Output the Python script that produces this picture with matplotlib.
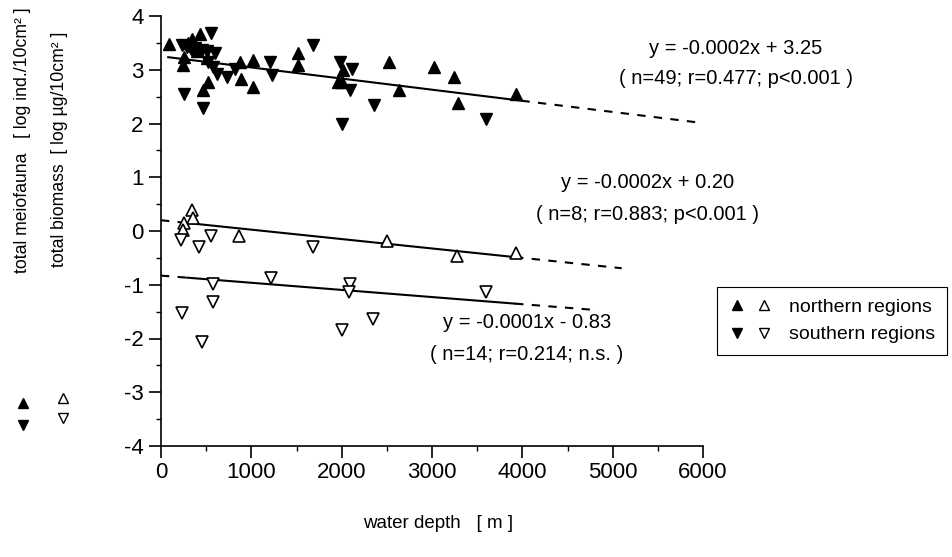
import numpy as np
import matplotlib
matplotlib.use('Agg')
import matplotlib.pyplot as plt
from matplotlib.lines import Line2D
from matplotlib.legend_handler import HandlerTuple
from matplotlib.ticker import MultipleLocator

plt.rcParams['font.family'] = ['Liberation Sans', 'DejaVu Sans']
plt.rcParams['axes.unicode_minus'] = False

# total meiofauna (log ind./10cm2), filled symbols
meio_north_depth = [88, 347, 432, 258, 247, 505, 875, 1023, 886, 1023, 524, 469, 300, 400,
                    1521, 1521, 2019, 1963, 2004, 2519, 2636, 3027, 3249, 3293, 3931]
meio_north_val = [3.48, 3.58, 3.67, 3.24, 3.09, 3.21, 3.15, 3.19, 2.82, 2.68, 2.78, 2.62, 3.50, 3.35,
                  3.31, 3.09, 2.99, 2.78, 2.78, 3.15, 2.62, 3.05, 2.86, 2.38, 2.55]
meio_south_depth = [229, 284, 554, 376, 450, 505, 598, 520, 575, 616, 727, 819, 258, 469, 330,
                    1207, 1226, 1688, 1982, 2112, 2093, 2359, 2007, 3599]
meio_south_val = [3.46, 3.43, 3.69, 3.40, 3.37, 3.34, 3.31, 3.15, 3.06, 2.93, 2.87, 3.01, 2.55, 2.28, 3.38,
                  3.15, 2.90, 3.46, 3.15, 3.01, 2.62, 2.34, 2.00, 2.08]

# total biomass (log ug/10cm2), open symbols
bio_north_depth = [340, 358, 255, 240, 867, 2507, 3282, 3931]
bio_north_val = [0.39, 0.25, 0.15, 0.02, -0.09, -0.18, -0.46, -0.41]
bio_south_depth = [221, 425, 554, 1679, 580, 580, 236, 450, 1214, 2093, 2086, 2001, 2349, 3595]
bio_south_val = [-0.17, -0.30, -0.09, -0.30, -0.99, -1.33, -1.52, -2.06, -0.88, -0.99, -1.14, -1.85,
                 -1.64, -1.13]

# regression lines: slope, intercept, solid range, dashed ranges
fit_slopes = [-0.000207, -0.000175, -0.000133]
fit_intercepts = [3.25, 0.20, -0.83]
fit_solid = [(80, 3990), (230, 3920), (290, 3920)]
fit_dashed = [[(3990, 6000)], [(0, 230), (3920, 5100)], [(0, 290), (3920, 4840)]]

eq_texts = ['y = -0.0002x + 3.25', 'y = -0.0002x + 0.20', 'y = -0.0001x - 0.83']
stat_texts = ['( n=49; r=0.477; p<0.001 )', '( n=8; r=0.883; p<0.001 )', '( n=14; r=0.214; n.s. )']

W, H = 952, 557
fig = plt.figure(figsize=(W / 100, H / 100), dpi=100)
ax = fig.add_axes([161 / W, 1 - 446 / H, 542 / W, 430 / H])

ms = 9
ax.plot(meio_north_depth, meio_north_val, '^', color='black', ms=ms, ls='none', clip_on=False)
ax.plot(meio_south_depth, meio_south_val, 'v', color='black', ms=ms, ls='none', clip_on=False)
ax.plot(bio_north_depth, bio_north_val, '^', mfc='white', mec='black', mew=1.2, ms=ms, ls='none')
ax.plot(bio_south_depth, bio_south_val, 'v', mfc='white', mec='black', mew=1.2, ms=ms, ls='none')

for k in range(3):
    a, b = fit_slopes[k], fit_intercepts[k]
    x0, x1 = fit_solid[k]
    xs = np.array([x0, x1])
    ax.plot(xs, b + a * xs, color='black', lw=1.5, zorder=1, clip_on=False)
    for d0, d1 in fit_dashed[k]:
        xs = np.array([d0, d1])
        ax.plot(xs, b + a * xs, color='black', lw=1.5, ls=(0, (4, 4)), zorder=1, clip_on=False)

ax.set_xlim(0, 6000)
ax.set_ylim(-4, 4)
ax.xaxis.set_major_locator(MultipleLocator(1000))
ax.xaxis.set_minor_locator(MultipleLocator(500))
ax.yaxis.set_major_locator(MultipleLocator(1))
ax.yaxis.set_minor_locator(MultipleLocator(0.5))
ax.spines['top'].set_visible(False)
ax.spines['right'].set_visible(False)
for s in ['left', 'bottom']:
    ax.spines[s].set_linewidth(1.2)
ax.tick_params(which='major', length=8.5, width=1.2, labelsize=16, direction='out')
ax.tick_params(which='minor', length=3.5, width=1.0, direction='out')
ax.tick_params(axis='x', pad=3)
ax.tick_params(axis='y', pad=4)

fig.text(438 / W, 1 - 523 / H, 'water depth   [ m ]', fontsize=13.5, ha='center', va='center')

fig.text(23 / W, 1 - 273 / H, 'total meiofauna   [ log ind./10cm² ]', fontsize=12.7,
         rotation=90, ha='center', va='bottom')
fig.text(60 / W, 1 - 267 / H, 'total biomass  [ log µg/10cm² ]', fontsize=12.7,
         rotation=90, ha='center', va='bottom')

# symbol keys next to the axis titles
for (px, py, mk, fill) in [(23, 403, '^', 'black'), (23, 425, 'v', 'black'),
                           (63, 398, '^', 'white'), (63, 418, 'v', 'white')]:
    fig.add_artist(Line2D([px / W], [1 - py / H], transform=fig.transFigure, marker=mk,
                          ms=7, mfc=fill, mec='black', mew=1.0, ls='none'))

# equations
eq_x = [736, 648, 527]
eq_y = [48, 183, 322]
st_y = [79, 214, 354]
for k in range(3):
    fig.text(eq_x[k] / W, 1 - eq_y[k] / H, eq_texts[k], fontsize=14.5,
             ha='center', va='center')
    fig.text(eq_x[k] / W, 1 - st_y[k] / H, stat_texts[k], fontsize=14.5,
             ha='center', va='center')

h_n = (Line2D([], [], marker='^', color='black', ls='none', ms=7),
       Line2D([], [], marker='^', mfc='white', mec='black', ls='none', ms=7))
h_s = (Line2D([], [], marker='v', color='black', ls='none', ms=7),
       Line2D([], [], marker='v', mfc='white', mec='black', ls='none', ms=7))
leg = fig.legend([h_n, h_s], ['northern regions', 'southern regions'],
                 handler_map={tuple: HandlerTuple(ndivide=None, pad=0.6)},
                 loc='center', bbox_to_anchor=(832 / W, 1 - 321 / H), fontsize=14,
                 frameon=True, fancybox=False, framealpha=1, edgecolor='black',
                 handlelength=2.2, handletextpad=0.9, borderpad=0.6, labelspacing=0.5)
leg.get_frame().set_linewidth(0.8)

fig.savefig('out.png', dpi=100)
